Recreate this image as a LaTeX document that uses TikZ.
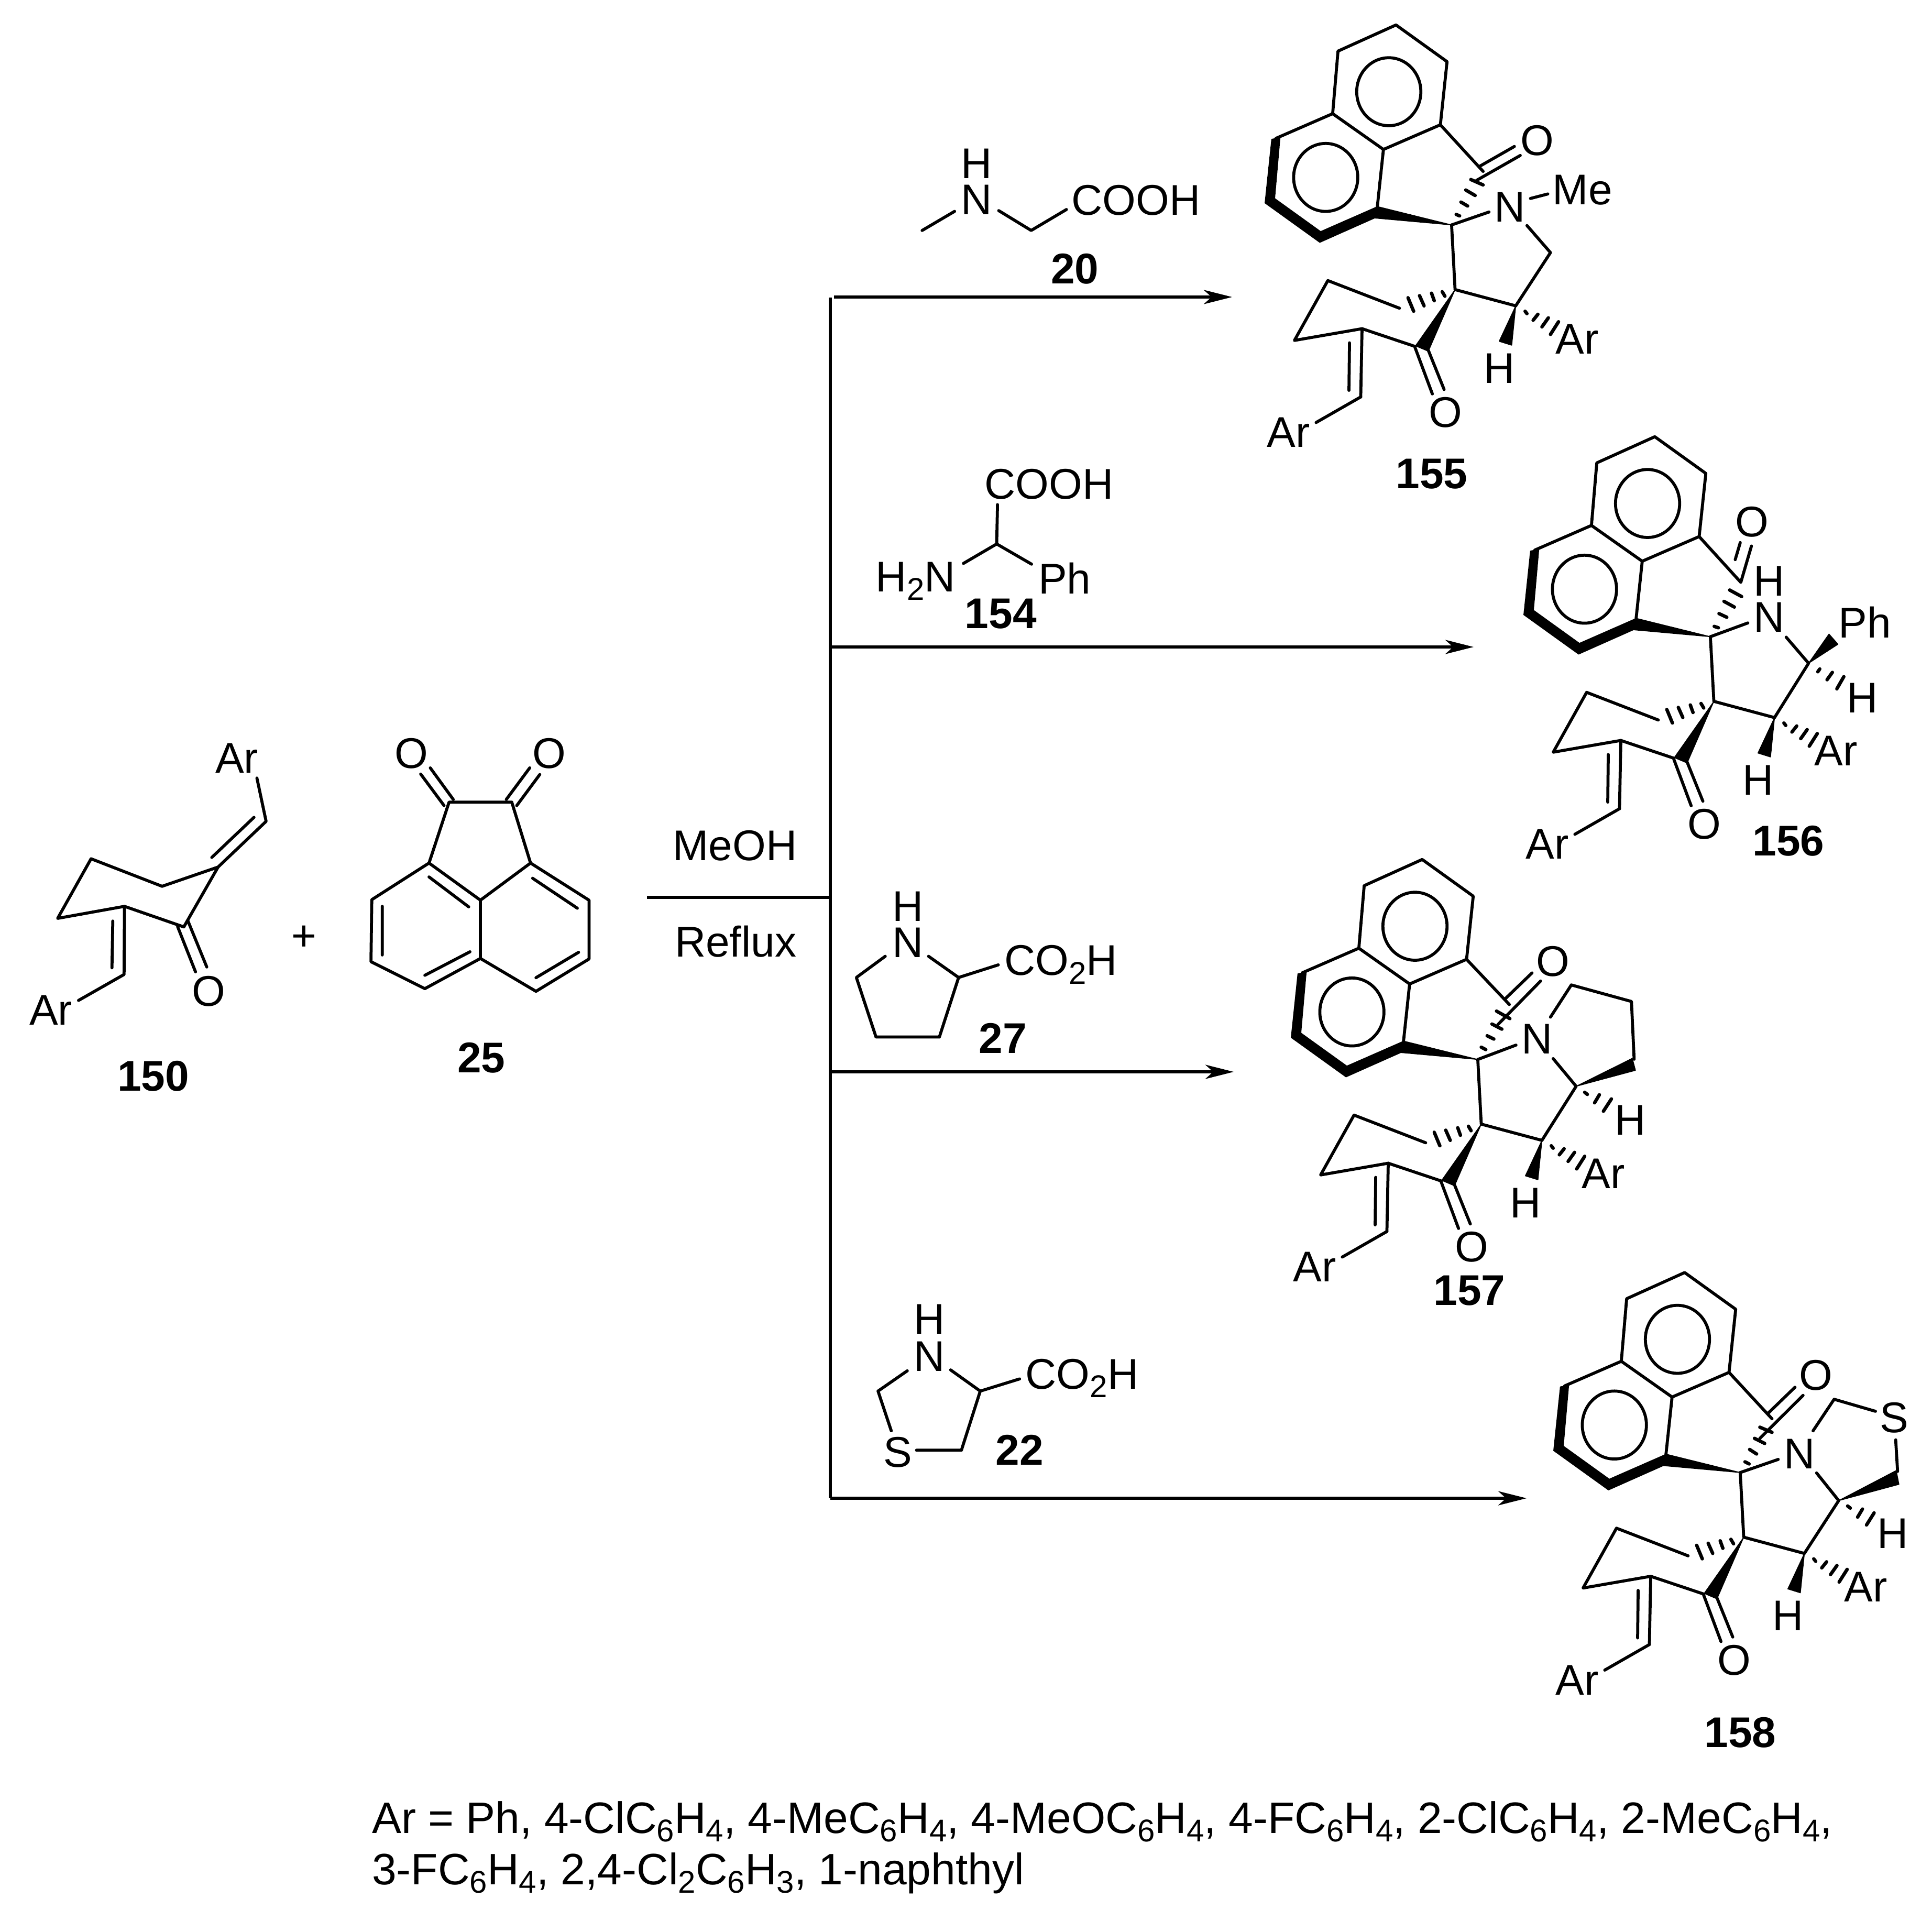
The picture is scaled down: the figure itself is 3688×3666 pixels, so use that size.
\documentclass[tikz,border=0pt]{standalone}
\usepackage{fontspec}
\setmainfont{Liberation Sans}
\usetikzlibrary{arrows.meta}
\newcommand{\csub}[1]{\raisebox{-0.2em}{\fontsize{12}{12}\selectfont #1}}
\tikzset{
  zf/.style n args={4}{shift={(#1,#2)},x=#3pt,y=-#4pt},
  bond/.style={draw=black,line width=1.15pt,line cap=round,line join=round},
  hashb/.style={draw=black,line width=1.3pt,line cap=round},
  solid wedge/.style={fill=black,draw=black,line width=0.3pt,line join=round},
  lab/.style={inner sep=0pt,outer sep=0pt,font=\fontsize{16.4}{16.4}\selectfont},
  foot/.style={inner sep=0pt,outer sep=0pt,font=\fontsize{16.8}{16.8}\selectfont},
  num/.style={inner sep=0pt,outer sep=0pt,font=\fontsize{16.4}{16.4}\selectfont\bfseries},
  arr/.style={draw=black,line width=1.1pt,-{Stealth[length=10.8pt,width=5.4pt,inset=3pt]}},
  plain/.style={draw=black,line width=1.1pt},
}
% shared spiro core, coordinates in one frame, #3 prefixes the names
\newcommand{\spirocore}[3]{%
\begin{scope}[zf={#1}{#2}{.10204}{.11481}]
  \coordinate (#3a) at (617,83); \coordinate (#3b) at (808,205);
  \coordinate (#3c) at (783,415); \coordinate (#3d) at (570,497);
  \coordinate (#3e) at (380,378); \coordinate (#3f) at (400,170);
  \coordinate (#3g) at (168,460); \coordinate (#3j) at (545,705);
  \coordinate (#3k) at (825,748); \coordinate (#3s) at (838,963);
  \coordinate (#3u) at (362,933); \coordinate (#3v) at (237,1132);
  \coordinate (#3w) at (490,1093); \coordinate (#3x) at (688,1152);
  \coordinate (#3y) at (485,1320); \coordinate (#3t) at (1065,1017);
  \draw[bond] (#3a)--(#3b)--(#3c)--(#3d)--(#3e)--(#3f)--cycle;
  \draw[bond] (#3e)--(#3g) (#3d)--(#3j);
  \draw[bond] (590,305) ellipse [x radius=120,y radius=113];
  \draw[bond] (354,590) ellipse [x radius=120,y radius=113];
  \fill[solid wedge] (183,458)--(152,463)--(127,675)--(332,806)--(537,725)--(548,687)--(335,770)--(163,660)--cycle;
  \fill[solid wedge] (#3k)--(548,687)--(537,725)--cycle;
  \draw[bond] (#3k)--(#3s)--(#3t);
  \draw[bond] (630,1025)--(#3u)--(#3v)--(#3w)--(#3x);
  \fill[solid wedge] (#3s)--(690,1150)--(738,1168)--cycle;
  \draw[hashb] (790,970)--(800,985) (750,975)--(760,1000) (705,983)--(722,1017) (662,990)--(683,1035);
  \draw[bond] (688,1155)--(753,1310) (738,1165)--(797,1295);
  \draw[bond] (#3w)--(#3y) (443,1140)--(441,1298);
  \draw[bond] (#3y)--(318,1405);
  \fill[solid wedge] (#3t)--(1003,1135)--(1050,1148)--cycle;
  \draw[hashb] (1100,1035)--(1107,1043) (1130,1065)--(1148,1045) (1163,1087)--(1187,1057) (1195,1112)--(1225,1070);
  \node[lab] (#3O) at (803,1372) {O};
  \node[lab] (#3Hb) at (1003,1225) {H};
  \node[lab] (#3Ar) at (1295,1128) {Ar};
  \node[lab] (#3Al) at (215,1438) {Ar};
\end{scope}}
\begin{document}
\begin{tikzpicture}[x=0.2pt,y=-0.2pt]
\useasboundingbox (0,0) rectangle (3688,3666);

% ---- reactants
\begin{scope}[zf={0}{1350}{.15949}{.10204}]
  \node[lab] (ar1) at (567,190) {Ar};
  \node[lab] (ar2) at (122,1133) {Ar};
  \node[lab] (o150) at (500,1062) {O};
  \node[lab] (plus) at (728,864) {+};
  \node[num] (n150) at (367,1380) {150};
  \coordinate (p1) at (522,598); \coordinate (p2) at (388,670); \coordinate (p3) at (218,567);
  \coordinate (p4) at (138,790); \coordinate (p5) at (298,745); \coordinate (p6) at (440,822);
  \coordinate (p7) at (637,427); \coordinate (p8) at (297,1000);
  \draw[bond] (p1)--(p2)--(p3)--(p4)--(p5)--(p6)--cycle;
  \draw[bond] (p1)--(p7)--(615,265) (507,562)--(608,412);
  \draw[bond] (p5)--(p8)--(188,1097) (270,800)--(268,975);
  \draw[bond] (425,820)--(468,990) (450,800)--(495,972);
  % acenaphthenequinone
  \node[lab] (o25a) at (985,172) {O};
  \node[lab] (o25b) at (1315,172) {O};
  \node[num] (n25) at (1152,1312) {25};
  \coordinate (q1) at (1075,355); \coordinate (q2) at (1225,355); \coordinate (q3) at (1270,583);
  \coordinate (q4) at (1150,722); \coordinate (q5) at (1027,583); \coordinate (q6) at (890,720);
  \coordinate (q7) at (888,952); \coordinate (q8) at (1017,1053); \coordinate (q9) at (1150,940);
  \coordinate (q10) at (1283,1063); \coordinate (q11) at (1410,942); \coordinate (q12) at (1410,722);
  \draw[bond] (q1)--(q2)--(q3)--(q4)--(q5)--cycle;
  \draw[bond] (q5)--(q6)--(q7)--(q8)--(q9)--(q10)--(q11)--(q12)--(q3);
  \draw[bond] (q4)--(q9);
  \draw[bond] (1027,635)--(1122,747) (915,745)--(915,927) (1017,1003)--(1125,915) (1283,1012)--(1385,917) (1275,640)--(1382,752);
  \draw[bond] (1007,250)--(1063,368) (1030,227)--(1085,345) (1268,227)--(1212,345) (1292,252)--(1237,368);
\end{scope}

% ---- scheme lines
\coordinate (c0) at (1235,1713); \coordinate (c1) at (1585,1713);
\coordinate (vt) at (1585,568); \coordinate (vb) at (1585,2860);
\coordinate (a1) at (1592,567); \coordinate (b1) at (2352,567);
\coordinate (a2) at (1587,1235); \coordinate (b2) at (2813,1235);
\coordinate (a3) at (1587,2046); \coordinate (b3) at (2355,2046);
\coordinate (a4) at (1585,2860); \coordinate (b4) at (2914,2860);
\draw[plain] (c0)--(c1);
\draw[plain] (vt)--(vb);
\draw[arr] (a1)--(b1);
\draw[arr] (a2)--(b2);
\draw[arr] (a3)--(b3);
\draw[arr] (a4)--(b4);

% ---- reagents 20, 154
\begin{scope}[zf={1200}{200}{.15306}{.1403}]
  \node[lab] (h20) at (868,160) {H};
  \node[lab] (n20) at (868,258) {N};
  \node[lab,anchor=base west] (c20) at (1105,300) {COOH};
  \node[num] (l20) at (1113,447) {20};
  \coordinate (m1) at (1004,342);
  \draw[bond] (732,342)--(813,290) (923,288)--(m1)--(1092,285);
  \node[lab,anchor=base west] (c154) at (888,1072) {COOH};
  \node[lab,anchor=base east] (n154) at (815,1325) {H\csub{2}N};
  \node[lab,anchor=base west] (ph154) at (1022,1330) {Ph};
  \node[num] (l154) at (928,1385) {154};
  \coordinate (m2) at (918,1195);
  \draw[bond] (920,1088)--(m2)--(1005,1250) (m2)--(835,1248);
\end{scope}

% ---- conditions and reagents 27, 22
\begin{scope}[zf={1200}{1500}{.15306}{.17219}]
  \node[lab] (meoh) at (265,133) {MeOH};
  \node[lab] (reflux) at (267,345) {Reflux};
  \node[lab] (h27) at (697,268) {H};
  \node[lab] (n27) at (697,347) {N};
  \node[lab,anchor=base west] (c27) at (937,420) {CO\csub{2}H};
  \node[num] (l27) at (933,560) {27};
  \coordinate (r1) at (568,425); \coordinate (r2) at (617,557); \coordinate (r3) at (775,557); \coordinate (r4) at (823,425);
  \draw[bond] (640,378)--(r1)--(r2)--(r3)--(r4)--(748,378) (r4)--(922,397);
  \node[lab] (h22) at (750,1183) {H};
  \node[lab] (n22) at (750,1265) {N};
  \node[lab] (s22) at (672,1478) {S};
  \node[lab,anchor=base west] (c22) at (990,1337) {CO\csub{2}H};
  \node[num] (l22) at (975,1472) {22};
  \coordinate (t1) at (622,1342); \coordinate (t2) at (830,1473); \coordinate (t3) at (877,1342);
  \draw[bond] (695,1297)--(t1)--(655,1430) (718,1473)--(t2)--(t3)--(803,1295) (t3)--(975,1315);
\end{scope}

% ---- products
\spirocore{2350}{0}{A}
\begin{scope}[zf={2350}{0}{.10204}{.11481}]
  \node[lab] (Nn) at (1043,688) {N};
  \node[lab] (Me) at (1315,632) {Me};
  \node[lab] (Oc) at (1145,468) {O};
  \coordinate (Am) at (943,570); \coordinate (Ac5) at (1195,840);
  \draw[bond] (Ac)--(Am) (932,552)--(1060,487) (918,600)--(1082,517);
  \draw[hashb] (897,597)--(943,615) (878,632)--(913,650) (860,672)--(885,685) (842,713)--(855,718);
  \draw[bond] (Ak)--(965,705) (1120,660)--(1185,645);
  \draw[bond] (1107,750)--(Ac5)--(At);
\end{scope}
\node[num] (n155) at (2733,905) {155};

\spirocore{2844}{786}{B}
\begin{scope}[zf={2850}{800}{.10689}{.1084}]
  \node[lab] (Bn) at (987,697) {N};
  \node[lab] (Bhn) at (987,570) {H};
  \node[lab] (Bph) at (1328,715) {Ph};
  \node[lab] (Boc) at (925,362) {O};
  \node[lab] (Bh2) at (1320,982) {H};
  \coordinate (Bm) at (885,575); \coordinate (Bc5) at (1127,860);
  \draw[bond] (Bc)--(Bm)--(923,447) (865,495)--(883,435);
  \draw[hashb] (845,602)--(888,625) (825,642)--(862,662) (807,685)--(835,698) (790,730)--(805,735);
  \draw[bond] (Bk)--(910,718);
  \draw[bond] (1047,768)--(Bc5)--(Bt);
  \fill[solid wedge] (Bc5)--(1200,757)--(1232,793)--cycle;
  \draw[hashb] (1160,890)--(1167,880) (1193,918)--(1212,892) (1228,950)--(1253,907);
\end{scope}
\node[num] (n156) at (3414,1605) {156};

\spirocore{2400}{1593}{C}
\begin{scope}[zf={2400}{1600}{.10204}{.11481}]
  \node[lab] (Cn) at (1047,668) {N};
  \node[lab] (Coc) at (1107,410) {O};
  \node[lab] (Ch2) at (1395,937) {H};
  \coordinate (Cm) at (943,553); \coordinate (Cc5) at (1193,825);
  \coordinate (Cr1) at (1175,488); \coordinate (Cr2) at (1400,543);
  \draw[bond] (Cc)--(Cm) (930,532)--(1028,448) (900,620)--(1060,475);
  \draw[hashb] (895,575)--(945,600) (878,618)--(915,635) (860,657)--(885,668) (838,695)--(855,703);
  \draw[bond] (Ck)--(968,688);
  \draw[bond] (1097,595)--(Cr1)--(Cr2)--(1410,735);
  \fill[solid wedge] (Cc5)--(1403,732)--(1415,772)--cycle;
  \draw[bond] (1107,733)--(Cc5)--(Ct);
  \draw[hashb] (1225,845)--(1235,852) (1262,880)--(1280,853) (1295,908)--(1325,867);
\end{scope}
\node[num] (n157) at (2805,2464) {157};

\spirocore{2901}{2381.5}{D}
\begin{scope}[zf={2880}{2450}{.10309}{.11481}]
  \node[lab] (Dn) at (1077,567) {N};
  \node[lab] (Ds) at (1427,447) {S};
  \node[lab] (Doc) at (1138,305) {O};
  \node[lab] (Dh2) at (1422,832) {H};
  \coordinate (Dm) at (975,450); \coordinate (Dc5) at (1222,722); \coordinate (Dr1) at (1205,385);
  \draw[bond] (Dc)--(Dm) (960,432)--(1060,345) (930,515)--(1090,372);
  \draw[hashb] (930,478)--(975,495) (910,515)--(948,532) (892,552)--(918,567) (875,593)--(890,600);
  \draw[bond] (Dk)--(998,585);
  \draw[bond] (1127,490)--(Dr1)--(1358,425) (1433,520)--(1440,625);
  \fill[solid wedge] (Dc5)--(1435,622)--(1445,668)--cycle;
  \draw[bond] (1140,630)--(Dc5)--(Dt);
  \draw[hashb] (1255,740)--(1265,747) (1292,777)--(1310,750) (1325,803)--(1353,763);
\end{scope}
\node[num] (n158) at (3322,3307) {158};

% ---- footnote
\node[foot,anchor=base west] (foot1) at (710,3499) {Ar = Ph, 4-ClC\csub{6}H\csub{4}, 4-MeC\csub{6}H\csub{4}, 4-MeOC\csub{6}H\csub{4}, 4-FC\csub{6}H\csub{4}, 2-ClC\csub{6}H\csub{4}, 2-MeC\csub{6}H\csub{4},};
\node[foot,anchor=base west] (foot2) at (710,3597) {3-FC\csub{6}H\csub{4}, 2,4-Cl\csub{2}C\csub{6}H\csub{3}, 1-naphthyl};
\end{tikzpicture}
\end{document}
